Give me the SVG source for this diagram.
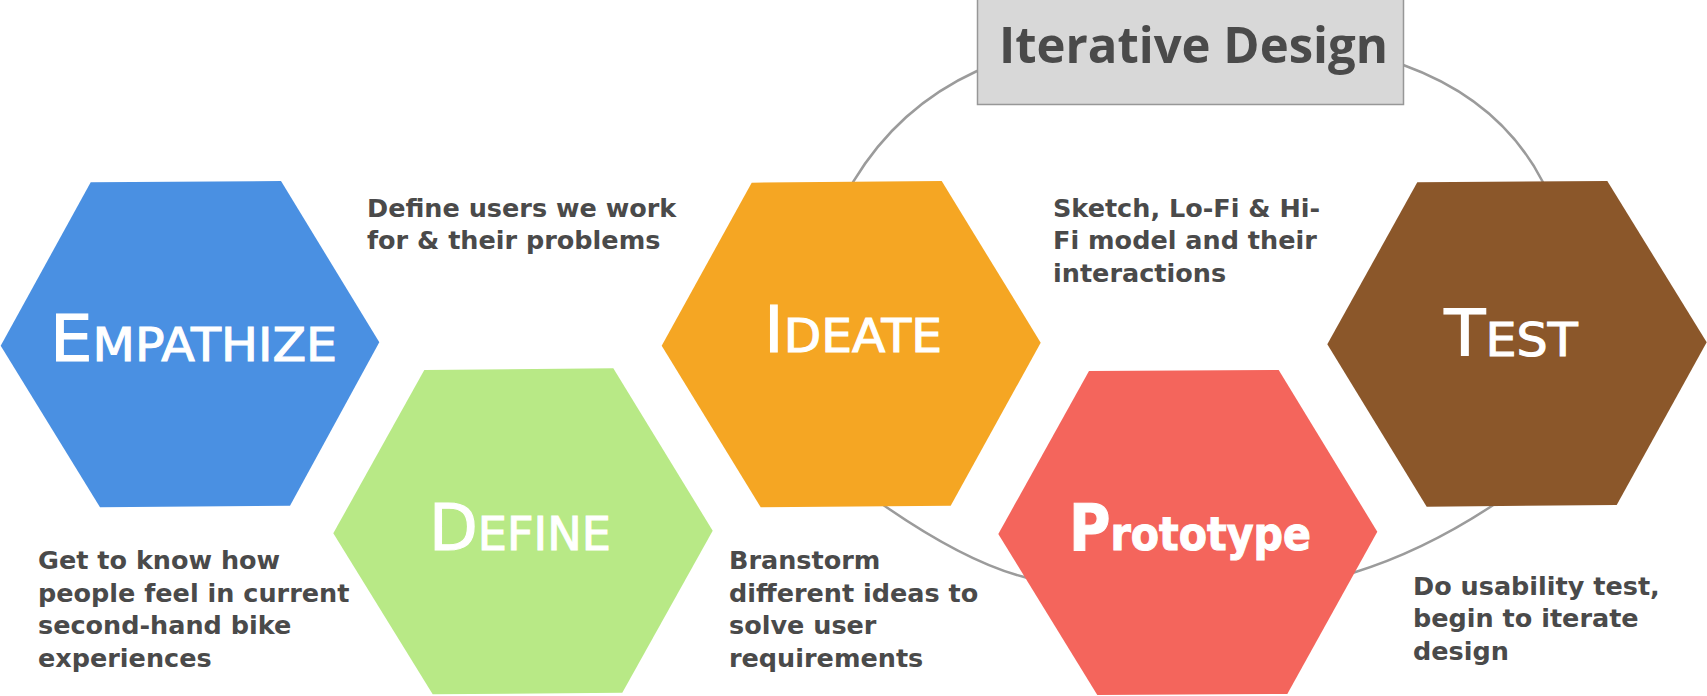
<svg xmlns="http://www.w3.org/2000/svg" width="1707" height="696" viewBox="0 0 1707 696">
<style>
.ring{fill:none;stroke:#9b9b9b;stroke-width:2.5}
.lbl{font-family:"DejaVu Sans",Verdana,sans-serif;fill:#ffffff;stroke:#ffffff;stroke-width:1.1;font-size:46.6px}
.big{font-size:64px}
.note{font-family:"DejaVu Sans",Verdana,sans-serif;font-weight:bold;font-size:25.5px;fill:#4a4a4a}
.title{font-family:"Open Sans","DejaVu Sans",sans-serif;font-weight:bold;font-size:50px;fill:#4a4a4a}
</style>
<rect width="1707" height="696" fill="#ffffff"/>
<g id="connectors">
<path class="ring" d="M977,71 Q898.2,107 853.3,181.7 C820,240 820,440 883.3,505 Q965.9,562.3 1025,577.3 C1100,600 1280,598 1353.3,572.7 Q1423.3,551.2 1493.3,505 C1560,450 1570,250 1542.7,181.7 Q1500.4,100 1403.3,65 C1300,20 1080,20 977,71 Z"/>
</g>
<g id="iterative-design">
<rect x="977.5" y="-1" width="426" height="105.5" fill="#d8d8d8" stroke="#979797" stroke-width="1.5"/>
<text class="title" x="999" y="63" textLength="389" lengthAdjust="spacingAndGlyphs">Iterative Design</text>
</g>
<g id="empathize">
<polygon points="90.7,182.3 281,181 379.3,342.3 290,505.7 100,507.3 0.7,345.7" fill="#4a90e2"/>
<text class="lbl" x="50" y="361" textLength="287" lengthAdjust="spacingAndGlyphs"><tspan class="big">E</tspan>MPATHIZE</text>
</g>
<g id="define">
<polygon points="424.3,370 613.3,368.3 712.7,530.7 622.3,692.7 432.7,694.3 333.3,533.3" fill="#b8e986"/>
<text class="lbl" x="429" y="550" textLength="182" lengthAdjust="spacingAndGlyphs"><tspan class="big">D</tspan>EFINE</text>
</g>
<g id="ideate">
<polygon points="751.7,182.7 941.7,181 1040.7,342.7 950.7,505.7 760.7,507.3 661.7,345.7" fill="#f5a623"/>
<text class="lbl" x="764" y="351.7" textLength="178" lengthAdjust="spacingAndGlyphs"><tspan class="big">I</tspan>DEATE</text>
</g>
<g id="prototype">
<polygon points="1089,371 1278.7,370 1377.3,531.7 1287.3,694 1097.3,695 998.3,534" fill="#f4655c"/>
<text class="lbl" x="1069" y="550" font-weight="bold" font-size="47px" stroke-width="0" textLength="242" lengthAdjust="spacingAndGlyphs"><tspan class="big">P</tspan>rototype</text>
</g>
<g id="test">
<polygon points="1417.3,182.3 1607.3,181 1706.7,342.3 1616.7,505 1426.7,506.7 1327.3,344.3" fill="#8b572a"/>
<text class="lbl" x="1444.3" y="355.7" textLength="133.4" lengthAdjust="spacingAndGlyphs"><tspan class="big">T</tspan>EST</text>
</g>
<g id="note-define">
<text class="note" x="367" y="216.5">Define users we work</text>
<text class="note" x="367" y="249">for &amp; their problems</text>
</g>
<g id="note-ideate">
<text class="note" x="1053" y="216.5">Sketch, Lo-Fi &amp; Hi-</text>
<text class="note" x="1053" y="249">Fi model and their</text>
<text class="note" x="1053" y="281.5">interactions</text>
</g>
<g id="note-empathize">
<text class="note" x="38" y="569">Get to know how</text>
<text class="note" x="38" y="601.5">people feel in current</text>
<text class="note" x="38" y="634">second-hand bike</text>
<text class="note" x="38" y="666.5">experiences</text>
</g>
<g id="note-brainstorm">
<text class="note" x="729" y="569">Branstorm</text>
<text class="note" x="729" y="601.5">different ideas to</text>
<text class="note" x="729" y="634">solve user</text>
<text class="note" x="729" y="666.5">requirements</text>
</g>
<g id="note-test">
<text class="note" x="1413" y="594.5">Do usability test,</text>
<text class="note" x="1413" y="627">begin to iterate</text>
<text class="note" x="1413" y="659.5">design</text>
</g>
</svg>
